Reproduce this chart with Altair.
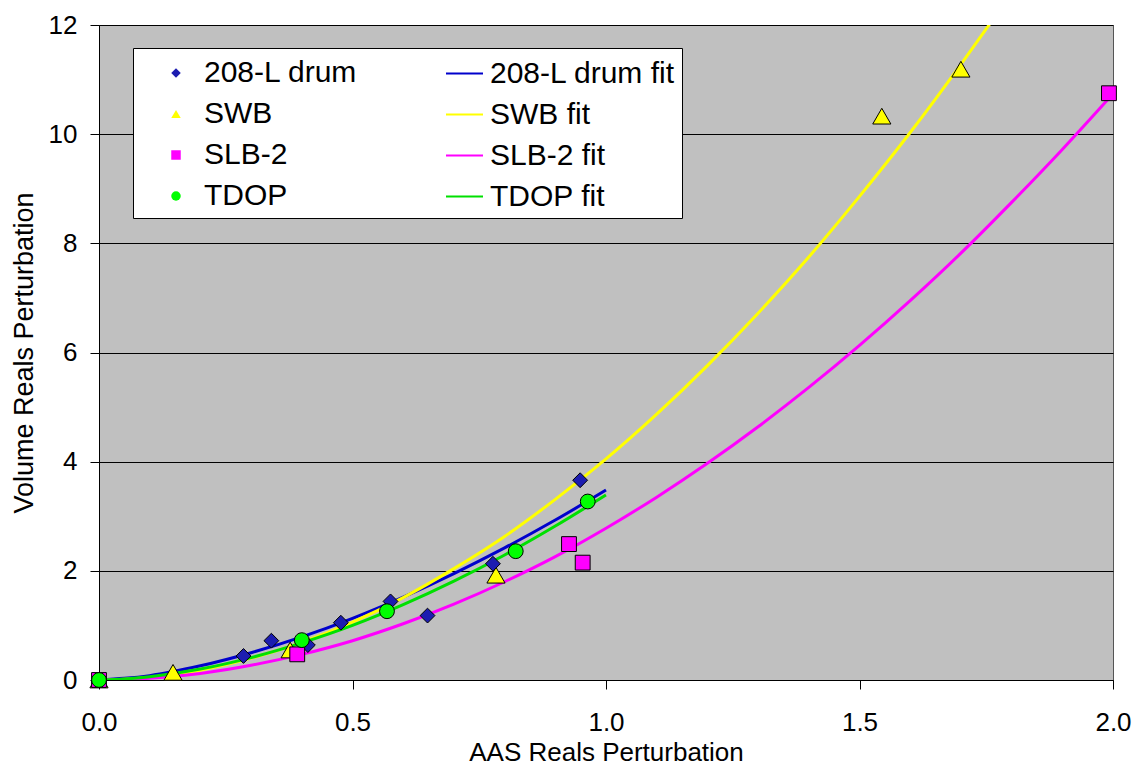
import altair as alt
import pandas as pd

# ---- measured points ----
drum_x = [0.0, 0.285, 0.340, 0.412, 0.477, 0.575, 0.648, 0.777, 0.949]
drum_y = [0.0, 0.44, 0.72, 0.64, 1.05, 1.44, 1.18, 2.13, 3.66]

swb_x = [0.0, 0.146, 0.377, 0.783, 1.544, 1.700]
swb_y = [0.0, 0.14, 0.55, 1.92, 10.33, 11.19]

slb_x = [0.0, 0.391, 0.927, 0.954, 1.992]
slb_y = [0.0, 0.47, 2.49, 2.15, 10.75]

tdop_x = [0.0, 0.400, 0.568, 0.822, 0.964]
tdop_y = [0.0, 0.73, 1.26, 2.36, 3.27]

# ---- fit curves ----
short_fit_x = [0.0, 0.05, 0.1, 0.2, 0.3, 0.4, 0.5, 0.6, 0.7, 0.8, 0.9, 1.0]
drum_fit_y = [0.0, 0.03, 0.08, 0.26, 0.50, 0.79, 1.13, 1.52, 1.95, 2.42, 2.93, 3.48]
tdop_fit_y = [0.0, 0.018, 0.06, 0.20, 0.41, 0.68, 1.00, 1.38, 1.81, 2.29, 2.82, 3.39]

swb_fit_x = [0.0, 0.05, 0.1, 0.2, 0.3, 0.4, 0.5, 0.6, 0.7, 0.8, 0.9, 1.0,
             1.1, 1.2, 1.3, 1.4, 1.5, 1.6, 1.7, 1.76]
swb_fit_y = [0.0, 0.013, 0.048, 0.18, 0.40, 0.69, 1.06, 1.51, 2.04, 2.63, 3.31, 4.05,
             4.87, 5.76, 6.72, 7.75, 8.86, 10.03, 11.28, 12.06]

slb_fit_x = [0.0, 0.05, 0.1, 0.2, 0.3, 0.4, 0.5, 0.6, 0.7, 0.8, 0.9, 1.0,
             1.1, 1.2, 1.3, 1.4, 1.5, 1.6, 1.7, 1.8, 1.9, 2.0]
slb_fit_y = [0.0, 0.008, 0.031, 0.12, 0.27, 0.47, 0.72, 1.03, 1.39, 1.80, 2.26, 2.78,
             3.35, 3.97, 4.64, 5.36, 6.13, 6.95, 7.82, 8.75, 9.72, 10.74]

point_names = ["208-L drum", "SWB", "SLB-2", "TDOP"]
fit_names = ["208-L drum fit", "SWB fit", "SLB-2 fit", "TDOP fit"]
point_fill = ["#1C1CB0", "#FFFF00", "#FF00FF", "#00FF00"]
point_shape = ["diamond", "triangle-up", "square", "circle"]
fit_color = ["#0000CC", "#FFFF00", "#FF00FF", "#00E000"]

pts = pd.concat([
    pd.DataFrame({"x": drum_x, "y": drum_y, "series": point_names[0]}),
    pd.DataFrame({"x": swb_x, "y": swb_y, "series": point_names[1]}),
    pd.DataFrame({"x": slb_x, "y": slb_y, "series": point_names[2]}),
    pd.DataFrame({"x": tdop_x, "y": tdop_y, "series": point_names[3]}),
], ignore_index=True)

fits = pd.concat([
    pd.DataFrame({"x": short_fit_x, "y": drum_fit_y, "fit": fit_names[0]}),
    pd.DataFrame({"x": swb_fit_x, "y": swb_fit_y, "fit": fit_names[1]}),
    pd.DataFrame({"x": slb_fit_x, "y": slb_fit_y, "fit": fit_names[2]}),
    pd.DataFrame({"x": short_fit_x, "y": tdop_fit_y, "fit": fit_names[3]}),
], ignore_index=True)

FONT = "Liberation Sans"

x_enc = alt.X(
    "x:Q",
    scale=alt.Scale(domain=[0, 2], nice=False, zero=False),
    axis=alt.Axis(values=[0, 0.5, 1, 1.5, 2], format=".1f", title="AAS Reals Perturbation",
                  grid=False, tickSize=9, labelPadding=20, titlePadding=4, labelFlush=False),
)
y_enc = alt.Y(
    "y:Q",
    scale=alt.Scale(domain=[0, 12], nice=False, zero=False),
    axis=alt.Axis(values=[0, 2, 4, 6, 8, 10, 12], format="d", title="Volume Reals Perturbation",
                  grid=True, tickSize=9, labelPadding=13, titlePadding=10, titleFontSize=27,
                  labelFlush=False),
)

lines = alt.Chart(fits).mark_line(strokeWidth=3, clip=True, interpolate="monotone").encode(
    x=x_enc,
    y=y_enc,
    color=alt.Color(
        "fit:N",
        scale=alt.Scale(domain=fit_names, range=fit_color),
        sort=fit_names,
        legend=alt.Legend(
            title=None, orient="none", legendX=34, legendY=23, padding=6,
            fillColor="white", strokeColor="black", symbolType="stroke",
            symbolSize=1369, symbolStrokeWidth=2, symbolOffset=306, labelOffset=6,
            labelFontSize=30, labelFont=FONT, labelColor="black", rowPadding=6,
            labelLimit=400, zindex=0,
        ),
    ),
)

pt_legend = alt.Legend(
    title=None, orient="none", legendX=52, legendY=23, padding=10,
    symbolSize=90, symbolStrokeColor="black", symbolStrokeWidth=1, labelOffset=13,
    labelFontSize=30, labelFont=FONT, labelColor="black", rowPadding=11,
    labelLimit=400, zindex=1,
)

pt_base = alt.Chart(pts).encode(
    x=x_enc,
    y=y_enc,
    fill=alt.Fill("series:N", scale=alt.Scale(domain=point_names, range=point_fill),
                  sort=point_names, legend=pt_legend),
    shape=alt.Shape("series:N", scale=alt.Scale(domain=point_names, range=point_shape),
                    sort=point_names, legend=pt_legend),
)

points = pt_base.transform_filter(alt.datum.series != "SWB").mark_point(
    filled=True, size=220, stroke="black", strokeWidth=1, opacity=1)
triangles = pt_base.transform_filter(alt.datum.series == "SWB").mark_point(
    filled=True, size=330, stroke="black", strokeWidth=1, opacity=1)

chart = alt.layer(lines, triangles, points).properties(
    width=1014, height=655,
    autosize=alt.AutoSizeParams(type="none"),
    padding={"left": 91, "top": 17, "right": 19, "bottom": 85},
    background="white",
).configure_view(
    fill="#C0C0C0", stroke="#555555", strokeWidth=1,
).configure_axis(
    domainColor="black", tickColor="black", labelColor="black", titleColor="black",
    labelFont=FONT, titleFont=FONT, labelFontSize=26, titleFontSize=26,
    titleFontWeight="normal", gridColor="black", gridWidth=1, gridOpacity=1,
    domainWidth=1, tickWidth=1,
)

chart.save("out.html", embed_options={"renderer": "svg", "actions": False})
